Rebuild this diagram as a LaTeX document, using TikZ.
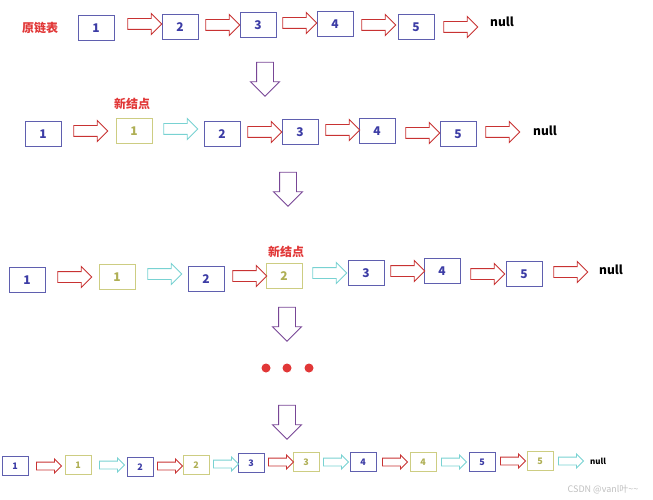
\documentclass[tikz,border=0pt]{standalone}
\usepackage{fontspec}
\setmainfont{Noto Sans CJK SC}
\usetikzlibrary{shapes.arrows}
\definecolor{boxblue}{RGB}{95,95,175}
\definecolor{txtblue}{RGB}{60,60,165}
\definecolor{boxyel}{RGB}{205,205,130}
\definecolor{txtyel}{RGB}{175,175,85}
\definecolor{arrred}{RGB}{200,50,50}
\definecolor{arrcyan}{RGB}{120,210,210}
\definecolor{arrpur}{RGB}{120,70,150}
\definecolor{lblred}{RGB}{225,55,55}
\tikzset{
  old/.style={draw=boxblue,line width=0.9pt,minimum width=36pt,minimum height=25pt,text=txtblue,font=\bfseries\large},
  new/.style={draw=boxyel,line width=0.9pt,minimum width=36pt,minimum height=25pt,text=txtyel,font=\bfseries\large},
  small/.style={minimum width=26pt,minimum height=19pt,font=\bfseries\small},
  blk/.style={single arrow,draw=#1,line width=0.9pt,fill=white,minimum height=34pt,single arrow head extend=5pt,inner sep=5pt},
  sblk/.style={blk=#1,minimum height=25pt,inner sep=3.5pt,single arrow head extend=3pt},
  down/.style={blk=arrpur,rotate=-90,minimum height=34pt,inner sep=8pt,single arrow head extend=6pt},
  lbl/.style={text=lblred,font=\bfseries\large},
  nul/.style={font=\bfseries\large}
}
\begin{document}
\begin{tikzpicture}[x=1pt,y=-1pt]
\useasboundingbox (0,0) rectangle (653,500);
% original list
\node[lbl] (t1) at (40,28) {原链表};
\foreach \n/\x/\y in {1/96/28,2/180/27,3/258/25,4/335/24,5/416/27}
  \node[old] (a\n) at (\x,\y) {\n};
\foreach \x/\y in {142/24,220/25,297/23,376/25,458/27}
  \node[blk=arrred] at (\x,\y) {};
\node[nul] (an) at (502,22) {null};
\node[down] (d1) at (265,75) {};
% step 1
\node[lbl] (t2) at (132,104) {新结点};
\node[old] (b1) at (43,134) {1};
\node[new] (b1n) at (134,131) {1};
\foreach \n/\x/\y in {2/222/134,3/300/132,4/377/131,5/458/134}
  \node[old] (b\n) at (\x,\y) {\n};
\foreach \c/\x/\y in {arrred/88/131,arrcyan/178/129,arrred/262/132,arrred/340/130,arrred/420/133,arrred/500/132}
  \node[blk=\c] at (\x,\y) {};
\node[nul] (bn) at (545,131) {null};
\node[down] (d2) at (288,185) {};
% step 2
\node[lbl] (t3) at (286,252) {新结点};
\node[old] (c1) at (27,280) {1};
\node[new] (c1n) at (117,277) {1};
\node[old] (c2) at (206,279) {2};
\node[new] (c2n) at (284,276) {2};
\foreach \n/\x/\y in {3/366/273,4/442/271,5/524/274}
  \node[old] (c\n) at (\x,\y) {\n};
\foreach \c/\x/\y in {arrred/72/277,arrcyan/162/274,arrred/247/276,arrcyan/327/273,arrred/405/271,arrred/485/274,arrred/568/272}
  \node[blk=\c] at (\x,\y) {};
\node[nul] (cn) at (611,270) {null};
\node[down] (d3) at (287,320) {};
\foreach \x in {266,287,309}
  \fill[lblred] (\x,368) circle (4.5);
\node[down] (d4) at (287,418) {};
% result
\foreach \n/\s/\x/\y in {1/old/15/466,1/new/78/465,2/old/140/467,2/new/196/465,3/old/251/463,3/new/306/462,4/old/363/462,4/new/423/462,5/old/482/462,5/new/540/461}
  \node[\s,small] (e\x) at (\x,\y) {\n};
\foreach \c/\x/\y in {arrred/47/466,arrcyan/110/465,arrred/168/466,arrcyan/224/464,arrred/279/462,arrcyan/334/462,arrred/393/462,arrcyan/452/462,arrred/511/461,arrcyan/569/461}
  \node[sblk=\c] at (\x,\y) {};
\node[nul,font=\bfseries\footnotesize] (en) at (598,461) {null};
\node[text=black!25,font=\small] (wm) at (603,490) {CSDN @vanl叶\textasciitilde\textasciitilde};
\end{tikzpicture}
\end{document}
